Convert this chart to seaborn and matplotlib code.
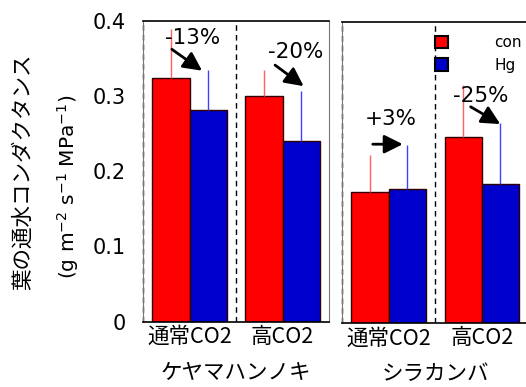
import numpy as np
import pandas as pd
import matplotlib.pyplot as plt
import seaborn as sns

sns.set_style("white")
plt.rcParams['font.family'] = ['DejaVu Sans', 'Noto Sans CJK JP']
for k in ['text.color', 'axes.labelcolor', 'xtick.color', 'ytick.color']:
    plt.rcParams[k] = 'black'

co2 = ['通常CO2', '高CO2']
treat = ['con', 'Hg']
species = ['ケヤマハンノキ', 'シラカンバ']

keyama_con = [0.324, 0.300]
keyama_hg = [0.281, 0.240]
keyama_con_err = [0.065, 0.035]
keyama_hg_err = [0.053, 0.067]

shira_con = [0.174, 0.247]
shira_hg = [0.179, 0.185]
shira_con_err = [0.049, 0.070]
shira_hg_err = [0.058, 0.081]

yticks = [0, 0.1, 0.2, 0.3, 0.4]
ytick_labels = ['0', '0.1', '0.2', '0.3', '0.4']

changes_keyama = ['-13%', '-20%']
changes_shira = ['+3%', '-25%']

red = '#ff0000'
blue = '#0000cc'
cjk = ['Noto Sans CJK JP', 'DejaVu Sans']


def make_df(con, hg, con_err, hg_err):
    return pd.DataFrame({
        'co2': co2 + co2,
        'treat': [treat[0]] * 2 + [treat[1]] * 2,
        'val': con + hg,
        'err': con_err + hg_err,
    })


fig = plt.figure(figsize=(5.26, 3.87), dpi=100)
ax1 = fig.add_axes([0.2719, 0.1687, 0.3536, 0.7778])
ax2 = fig.add_axes([0.6502, 0.1646, 0.3544, 0.7778])

panels = [
    (ax1, make_df(keyama_con, keyama_hg, keyama_con_err, keyama_hg_err), species[0]),
    (ax2, make_df(shira_con, shira_hg, shira_con_err, shira_hg_err), species[1]),
]

for ax, df, sp in panels:
    sns.barplot(data=df, x='co2', y='val', hue='treat', order=co2, hue_order=treat,
                palette=[red, blue], errorbar=None, edgecolor='#300000',
                linewidth=1, saturation=1, ax=ax, legend=(ax is ax2))
    # error bars (upper only) from bar centres
    for p, (_, row) in zip(ax.patches, df.iterrows()):
        xc = p.get_x() + p.get_width() / 2
        ecol = '#ff6060' if row['treat'] == 'con' else '#4040ff'
        ax.vlines(xc, row['val'], row['val'] + row['err'], color=ecol, lw=1, zorder=1)
    ax.set_xlim(-0.5, 1.5)
    ax.set_ylim(0, 0.4)
    ax.set_yticks(yticks)
    ax.set_xticks([0, 1])
    ax.set_xticklabels(co2, family=cjk, fontsize=15.5)
    ax.set_xticks([-0.5, 0.5, 1.5], minor=True)
    ax.tick_params(axis='x', which='major', length=0, pad=3)
    ax.tick_params(axis='x', which='minor', length=6, width=0.8, direction='out')
    ax.tick_params(axis='y', length=9, width=0.8, direction='out')
    ax.set_xlabel(sp, family=cjk, fontsize=15.5, labelpad=10)
    ax.set_ylabel('')
    for s in ['top', 'bottom']:
        ax.spines[s].set_color('black')
        ax.spines[s].set_linewidth(1.2)
    ax.spines['left'].set_color('#777777')
    ax.spines['left'].set_linewidth(0.8)
    ax.spines['right'].set_color('#777777')
    ax.spines['right'].set_linewidth(0.8)
    ax.axvline(-0.5, color='black', ls=(0, (4, 3)), lw=1, clip_on=False)
    ax.axvline(0.5, color='black', ls=(0, (4, 3)), lw=1)

ax1.set_yticklabels(ytick_labels, fontsize=15)
ax2.set_yticklabels([])
ax2.spines['right'].set_visible(False)

ax2.legend(loc='upper left', bbox_to_anchor=(0.427, 1.003), frameon=False,
           handlelength=0.85, handleheight=0.85, handletextpad=3.0,
           labelspacing=0.5, fontsize=11)
for h in ax2.get_legend().legend_handles:
    h.set_edgecolor('black')
    h.set_linewidth(1.5)

arrow = dict(arrowstyle='-|>', lw=2, mutation_scale=28, color='black',
             shrinkA=0, shrinkB=0)

# annotations: text position, arrow tail and head in data coordinates
ax1.text(0.03, 0.3765, changes_keyama[0], ha='center', va='center', fontsize=15.5)
ax1.annotate('', xy=(0.135, 0.3336), xytext=(-0.19, 0.362), arrowprops=arrow)
ax1.text(1.14, 0.358, changes_keyama[1], ha='center', va='center', fontsize=15.5)
ax1.annotate('', xy=(1.227, 0.313), xytext=(0.92, 0.341), arrowprops=arrow)
ax2.text(0.024, 0.272, changes_shira[0], ha='center', va='center', fontsize=15.5)
ax2.annotate('', xy=(0.152, 0.238), xytext=(-0.17, 0.238), arrowprops=arrow)
ax2.text(0.99, 0.302, changes_shira[1], ha='center', va='center', fontsize=15.5)
ax2.annotate('', xy=(1.198, 0.2647), xytext=(0.88, 0.2877), arrowprops=arrow)

fig.text(0.0437, 0.5556, '葉の通水コンダクタンス', rotation=90, ha='center', va='center',
         fontsize=15.5, family=cjk)
fig.text(0.129, 0.5168, r'(g m$^{-2}$ s$^{-1}$ MPa$^{-1}$)', rotation=90,
         ha='center', va='center', fontsize=14.5)

fig.savefig('out.png', dpi=100)
